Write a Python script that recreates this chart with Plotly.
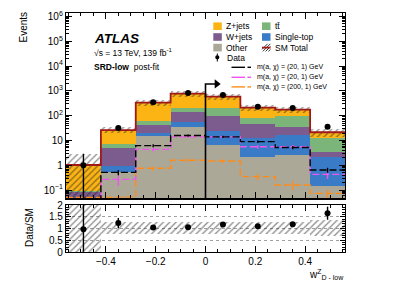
import numpy as np
import plotly.graph_objects as go

# ---------------- data ----------------
bin_edges = [-0.56, -0.42, -0.28, -0.14, 0.0, 0.14, 0.28, 0.42, 0.56]
bin_centers = [-0.49, -0.35, -0.21, -0.07, 0.07, 0.21, 0.35, 0.49]

other = [0.02, 0.55, 15.0, 36.0, 6.6, 2.2, 2.6, 0.14]
single_top = [0.01, 0.38, 5.6, 18.0, 18.4, 10.1, 14.0, 2.06]
wjets = [0.055, 4.17, 21.4, 91.0, 75.0, 32.7, 19.4, 1.3]
ttbar = [0.005, 1.9, 21.0, 65.0, 99.0, 38.0, 64.0, 8.8]
zjets = [0.94, 19.0, 272.0, 566.0, 386.0, 127.0, 75.0, 9.2]

data = [1.0, 32.0, 350.0, 815.0, 685.0, 229.0, 206.0, 35.5]
data_err_up = [1.9, 5.7, 18.7, 28.5, 26.0, 15.0, 14.4, 6.0]
data_err_dn = [0.99, 5.7, 18.7, 28.5, 26.0, 15.0, 14.4, 6.0]

# relative SM uncertainty band (lower / upper edges as ratio to SM)
band_lo = [0.0, 0.75, 0.75, 0.76, 0.76, 0.76, 0.76, 0.66]
band_hi = [2.8, 1.29, 1.28, 1.28, 1.28, 1.28, 1.28, 1.37]

sig_a = [0.02, 0.52, 6.2, 16.0, 14.0, 9.0, 5.2, 0.65]
sig_a_err = [0.0, 0.12, 0.8, 1.5, 1.4, 1.0, 0.8, 0.15]
sig_b = [0.03, 0.27, 4.4, 14.0, 14.0, 5.6, 5.6, 0.43]
sig_b_err = [0.0, 0.12, 0.8, 1.5, 1.4, 1.0, 1.0, 0.15]
sig_c = [0.051, 0.052, 0.76, 1.6, 1.5, 0.35, 0.16, 0.074]
sig_c_err = [0.0, 0.0, 0.15, 0.25, 0.25, 0.1, 0.06, 0.03]

arrow_top = 1900.0
arrow_len = 0.045

y_tickvals = [0.1, 1, 10, 100, 1e3, 1e4, 1e5, 1e6]
y_ticktext = ["10<sup>−1</sup>", "1", "10", "10<sup>2</sup>", "10<sup>3</sup>",
              "10<sup>4</sup>", "10<sup>5</sup>", "10<sup>6</sup>"]
x_tickvals = [-0.4, -0.2, 0.0, 0.2, 0.4]
x_ticktext = ["−0.4", "−0.2", "0", "0.2", "0.4"]
r_tickvals = [0, 0.5, 1, 1.5, 2]
r_ticktext = ["0", "0.5", "1", "1.5", "2"]

# ---------------- styles ----------------
C_Z = "#FBB414"
C_W = "#7C5C8E"
C_O = "#ABA898"
C_TT = "#7BB57A"
C_ST = "#3A7BC8"
C_RED = "#A01818"
C_MAG = "#EE55EE"
C_ORA = "#FF8C1A"
FONT = "Liberation Sans"

bw = 0.14
fig = go.Figure()

stack = [(other, C_O, "Other"), (single_top, C_ST, "Single-top"),
         (wjets, C_W, "W+jets"), (ttbar, C_TT, "tt"), (zjets, C_Z, "Z+jets")]
cum = np.zeros(len(bin_centers))
for vals, col, nm in stack:
    v = np.array(vals)
    b = np.where(cum <= 0, 1e-3, cum)
    fig.add_trace(go.Bar(x=bin_centers, y=(cum + v) - b, base=b, width=bw,
                         marker=dict(color=col, line=dict(width=0)),
                         name=nm, showlegend=False, xaxis="x", yaxis="y"))
    cum = cum + v
total = cum

HATCH = dict(shape="/", fgcolor="#222222", bgcolor="rgba(0,0,0,0)", size=4.5, solidity=0.3,
             fillmode="overlay")

# uncertainty band in main panel
lo_abs = np.maximum(total * np.array(band_lo), 1e-3)
hi_abs = total * np.array(band_hi)
fig.add_trace(go.Bar(x=bin_centers, y=hi_abs - lo_abs, base=lo_abs, width=bw,
                     marker=dict(color="rgba(0,0,0,0)", line=dict(width=0), pattern=HATCH),
                     showlegend=False, xaxis="x", yaxis="y"))

# SM total outline
fig.add_trace(go.Scatter(x=bin_edges, y=list(total) + [total[-1]], mode="lines",
                         line=dict(color=C_RED, width=1.8, shape="hv"),
                         showlegend=False, xaxis="x", yaxis="y"))

# signals
for vals, errs, col in [(sig_c, sig_c_err, C_ORA), (sig_b, sig_b_err, C_MAG), (sig_a, sig_a_err, "black")]:
    fig.add_trace(go.Scatter(x=bin_edges, y=list(vals) + [vals[-1]], mode="lines",
                             line=dict(color=col, width=1.4, shape="hv", dash="7px,3px"),
                             showlegend=False, xaxis="x", yaxis="y"))
    fig.add_trace(go.Scatter(x=bin_centers, y=vals, mode="markers",
                             marker=dict(size=1, color=col, opacity=0),
                             error_y=dict(type="data", array=errs, color=col, thickness=1.4, width=0),
                             showlegend=False, xaxis="x", yaxis="y"))

# data
fig.add_trace(go.Scatter(x=bin_centers, y=data, mode="markers",
                         marker=dict(size=6, color="black"),
                         error_y=dict(type="data", symmetric=False, array=data_err_up,
                                      arrayminus=data_err_dn, color="black", thickness=1.4, width=0),
                         showlegend=False, xaxis="x", yaxis="y"))

# cut arrow
fig.add_trace(go.Scatter(x=[0.0, 0.0, arrow_len], y=[0.01, arrow_top, arrow_top], mode="lines",
                         line=dict(color="black", width=1.6), showlegend=False,
                         xaxis="x", yaxis="y"))
fig.add_trace(go.Scatter(x=[arrow_len], y=[arrow_top], mode="markers",
                         marker=dict(symbol="triangle-right", size=8, color="black"),
                         showlegend=False, xaxis="x", yaxis="y"))

# ratio panel
ratio = np.array(data) / total
ratio_up = np.array(data_err_up) / total
ratio_dn = np.array(data_err_dn) / total
fig.add_trace(go.Bar(x=bin_centers, y=np.array(band_hi) - np.array(band_lo), base=band_lo, width=bw,
                     marker=dict(color="rgba(0,0,0,0)", line=dict(width=0), pattern=HATCH),
                     showlegend=False, xaxis="x2", yaxis="y2"))
fig.add_trace(go.Scatter(x=bin_centers, y=ratio, mode="markers",
                         marker=dict(size=6, color="black"),
                         error_y=dict(type="data", symmetric=False, array=ratio_up,
                                      arrayminus=ratio_dn, color="black", thickness=1.4, width=0),
                         showlegend=False, xaxis="x2", yaxis="y2"))

# ---------------- layout ----------------
W, H = 399, 288
ML, MR, MT, MB = 66, 54, 13, 36
PW, PH = W - ML - MR, H - MT - MB


def px2x(px):
    return (px - ML) / PW


def py2y(py):
    return (H - MB - py) / PH


axis_common = dict(showline=True, linecolor="black", linewidth=1.2, mirror="allticks",
                   ticks="inside", tickcolor="black", showgrid=False, zeroline=False,
                   automargin=False,
                   tickfont=dict(family=FONT, size=10, color="black"))

fig.update_layout(
    width=W, height=H, margin=dict(l=ML, r=MR, t=MT, b=MB, autoexpand=False),
    paper_bgcolor="white", plot_bgcolor="white", barmode="overlay", bargap=0,
    font=dict(family=FONT, color="black"), hovermode=False,
    xaxis=dict(domain=[0, 1], range=[-0.56, 0.56], anchor="y", showticklabels=False,
               tickvals=x_tickvals, ticklen=6,
               minor=dict(ticks="inside", ticklen=3, dtick=0.05, tickcolor="black"),
               **axis_common),
    yaxis=dict(domain=[py2y(198.3), 1], type="log", range=[-1.33, 6.14], anchor="x",
               tickvals=y_tickvals, ticktext=y_ticktext, ticklen=6,
               minor=dict(ticks="inside", ticklen=3, tickcolor="black",
                          tickvals=[m * 10.0 ** e for e in range(-2, 7) for m in range(2, 10)]),
               **axis_common),
    xaxis2=dict(domain=[0, 1], range=[-0.56, 0.56], anchor="y2",
                tickvals=x_tickvals, ticktext=x_ticktext, ticklen=6,
                minor=dict(ticks="inside", ticklen=3, dtick=0.05, tickcolor="black"),
                **axis_common),
    yaxis2=dict(domain=[0, py2y(205)], range=[0, 2], anchor="x2",
                tickvals=r_tickvals, ticktext=r_ticktext, ticklen=5,
                minor=dict(ticks="inside", ticklen=3, dtick=0.1, tickcolor="black"),
                **{**axis_common, "showgrid": True}, gridcolor="#888888", griddash="dot",
                gridwidth=0.8),
)

ann = []
shapes = []


def text(px, py, s, size, xanchor="left", angle=0, yanchor="middle"):
    ann.append(dict(x=px2x(px), y=py2y(py), xref="paper", yref="paper", text=s,
                    showarrow=False, xanchor=xanchor, yanchor=yanchor, textangle=angle,
                    font=dict(family=FONT, size=size, color="black")))


# axis titles
text(22.5, 27, "Events", 10, xanchor="center", angle=-90)
text(29, 228, "Data/SM", 10, xanchor="center", angle=-90)
text(346, 274, "w<sup>Z</sup><sub>D - low</sub>", 10, xanchor="right")

# ATLAS labels
text(92, 38.5, "<b><i>ATLAS</i></b>", 13.5)
text(92, 52.5, "√s = 13 TeV, 139 fb<sup>-1</sup>", 8.5)
text(92, 67, "<b>SRD-low</b>  post-fit", 8.5)

# legend boxes
leg_fill = [(213.3, 26.2, C_Z, "Z+jets"), (213.3, 37.0, C_W, "W+jets"), (213.3, 47.6, C_O, "Other"),
            (262.0, 26.2, C_TT, "tt\u0304"),
            (262.0, 37.0, C_ST, "Single-top")]
for bx, by, col, lab in leg_fill:
    shapes.append(dict(type="rect", xref="paper", yref="paper", x0=px2x(bx), x1=px2x(bx + 8.5),
                       y0=py2y(by + 3.8), y1=py2y(by - 3.8), fillcolor=col, line=dict(width=0)))
    text(bx + 11, by, lab, 8.5)

# SM total legend: hatch + red line
bx, by = 262.0, 47.6
for k in range(4):
    x0 = bx + k * 2.8 - 2
    shapes.append(dict(type="line", xref="paper", yref="paper",
                       x0=px2x(max(x0, bx)), y0=py2y(by + 3.8 - (max(x0, bx) - x0)),
                       x1=px2x(min(x0 + 7.6, bx + 8.5)), y1=py2y(by + 3.8 - (min(x0 + 7.6, bx + 8.5) - x0)),
                       line=dict(color="black", width=0.8)))
shapes.append(dict(type="line", xref="paper", yref="paper", x0=px2x(bx), x1=px2x(bx + 8.5),
                   y0=py2y(by), y1=py2y(by), line=dict(color=C_RED, width=1.8)))
text(bx + 11, by, "SM Total", 8.5)

# data legend
shapes.append(dict(type="circle", xref="paper", yref="paper", x0=px2x(215.2), x1=px2x(219.4),
                   y0=py2y(59.4), y1=py2y(55.2), fillcolor="black", line=dict(width=0)))
shapes.append(dict(type="line", xref="paper", yref="paper", x0=px2x(217.3), x1=px2x(217.3),
                   y0=py2y(61.5), y1=py2y(53.5), line=dict(color="black", width=1)))
text(224.5, 57.5, "Data", 8.5)

# signal legends
for py, col in [(67.3, "black"), (77.3, C_MAG), (86.9, C_ORA)]:
    shapes.append(dict(type="line", xref="paper", yref="paper", x0=px2x(231.5), x1=px2x(245),
                       y0=py2y(py), y1=py2y(py), line=dict(color=col, width=1.4)))
    shapes.append(dict(type="line", xref="paper", yref="paper", x0=px2x(247.5), x1=px2x(251),
                       y0=py2y(py), y1=py2y(py), line=dict(color=col, width=1.4)))
text(255, 67.3, "m(a, χ) = (20, 1) GeV", 7)
text(255, 77.3, "m(a, χ) = (20, 1) GeV", 7)
text(255, 86.9, "m(a, χ) = (200, 1) GeV", 7)

fig.update_layout(annotations=ann, shapes=shapes)
fig.write_html("out.html", config={"displayModeBar": False, "staticPlot": True},
               post_script="document.body.style.margin='0px';document.body.style.overflow='hidden';")
